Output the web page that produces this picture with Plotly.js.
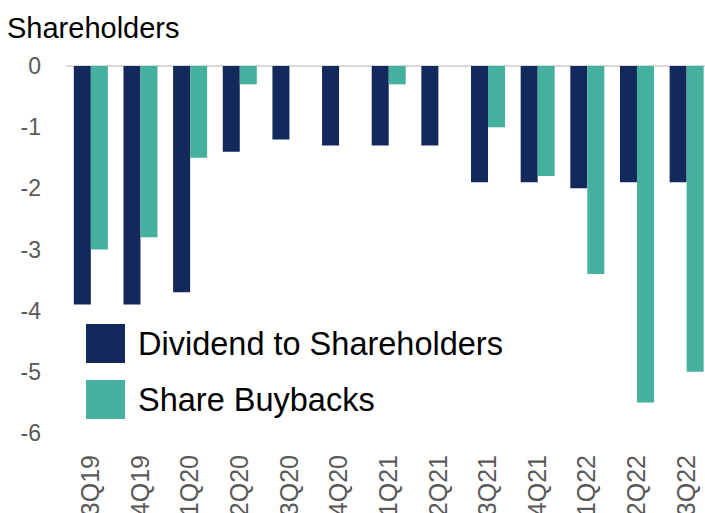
<!DOCTYPE html>
<html>
<head>
<meta charset="utf-8">
<script src="https://cdn.plot.ly/plotly-3.0.1.min.js"></script>
<style>
  html, body { margin: 0; padding: 0; background: #fff; }
  #chart { width: 705px; height: 513px; }
</style>
</head>
<body>
<div id="chart"></div>
<script>
const quarters = ["3Q19","4Q19","1Q20","2Q20","3Q20","4Q20","1Q21","2Q21","3Q21","4Q21","1Q22","2Q22","3Q22"];
const dividends = [-3.9, -3.9, -3.7, -1.4, -1.2, -1.3, -1.3, -1.3, -1.9, -1.9, -2.0, -1.9, -1.9];
const buybacks = [-3.0, -2.8, -1.5, -0.3, 0, 0, -0.3, 0, -1.0, -1.8, -3.4, -5.5, -5.0];
const seriesNames = ["Dividend to Shareholders", "Share Buybacks"];
const yTickVals = [0, -1, -2, -3, -4, -5, -6];
const yTickText = ["0", "-1", "-2", "-3", "-4", "-5", "-6"];
const chartTitle = "Shareholders";

const NAVY = "#13295b";
const TEAL = "#44b09d";
const FONT = "'Liberation Sans', Arial, Helvetica, sans-serif";

const traces = [
  { type: "bar", name: seriesNames[0], x: quarters, y: dividends, marker: { color: NAVY }, showlegend: false, hoverinfo: "x+y" },
  { type: "bar", name: seriesNames[1], x: quarters, y: buybacks, marker: { color: TEAL }, showlegend: false, hoverinfo: "x+y" }
];

// legend drawn as paper-referenced boxes + text (large swatches as in the original)
const legendShapes = [];
const legendAnn = [];
const legendColors = [NAVY, TEAL];
const legendTopPx = [324, 380];
const PL = 66, PT = 66, PW = 705 - 66, PH = 513 - 66 - 80;
function px2x(px) { return (px - PL) / PW; }
function py2y(py) { return 1 - (py - PT) / PH; }
seriesNames.forEach((n, i) => {
  legendShapes.push({
    type: "rect", xref: "paper", yref: "paper",
    x0: px2x(86), x1: px2x(125), y0: py2y(legendTopPx[i] + 39), y1: py2y(legendTopPx[i]),
    fillcolor: legendColors[i], line: { width: 0 }
  });
  legendAnn.push({
    xref: "paper", yref: "paper", x: px2x(136), y: py2y(legendTopPx[i] + 19.5),
    xanchor: "left", yanchor: "middle", showarrow: false, text: n,
    font: { family: FONT, size: 32.5, color: "#000" }
  });
});

const layout = {
  width: 705, height: 513,
  margin: { l: PL, r: 0, t: PT, b: 80, pad: 0 },
  paper_bgcolor: "#fff", plot_bgcolor: "#fff",
  font: { family: FONT },
  title: {
    text: chartTitle, xref: "container", yref: "container",
    x: 7 / 705, xanchor: "left", y: 1 - 28 / 513, yanchor: "middle",
    font: { family: FONT, size: 29, color: "#000" }
  },
  barmode: "group",
  bargap: 0.315,
  bargroupgap: 0,
  xaxis: {
    type: "category",
    range: [-0.5, 12.37],
    tickangle: -90,
    tickfont: { family: FONT, size: 25, color: "#595959" },
    ticks: "", showgrid: false, zeroline: false, showline: false,
    ticklabelstandoff: 16,
    fixedrange: true
  },
  yaxis: {
    range: [-6, 0],
    tickvals: yTickVals, ticktext: yTickText,
    tickfont: { family: FONT, size: 23, color: "#595959" },
    ticks: "", showgrid: false, showline: false,
    zeroline: true, zerolinecolor: "#d9d9d9", zerolinewidth: 2,
    ticklabelstandoff: 24,
    fixedrange: true
  },
  shapes: legendShapes,
  annotations: legendAnn
};

Plotly.newPlot("chart", traces, layout, { displayModeBar: false, staticPlot: true });
</script>
</body>
</html>
